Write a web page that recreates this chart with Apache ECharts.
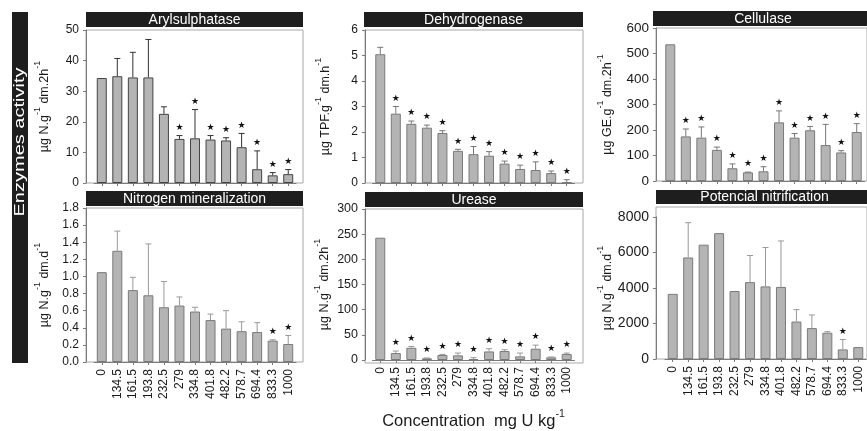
<!DOCTYPE html>
<html>
<head>
<meta charset="utf-8">
<script src="https://cdn.jsdelivr.net/npm/echarts@6/dist/echarts.min.js"></script>
<style>
html,body{margin:0;padding:0;background:#fff;}
#c{width:867px;height:431px;}
</style>
</head>
<body>
<div id="c"></div>
<script>
// ---------- DATA ----------
const categories = ['0','134.5','161.5','193.8','232.5','279','334.8','401.8','482.2','578.7','694.4','833.3','1000'];

const arylTitle = 'Arylsulphatase';
const arylValues = [34.3, 34.9, 34.5, 34.5, 22.6, 14.4, 14.6, 14.2, 13.9, 11.7, 4.5, 2.5, 2.9];
const arylErrors = [0, 5.8, 8.2, 12.4, 2.3, 1.1, 9.4, 1.3, 0.9, 4.5, 6.0, 0.9, 1.5];
const arylSignif = [0,0,0,0,0,1,1,1,1,1,1,1,1];

const dehyTitle = 'Dehydrogenase';
const dehyValues = [5.05, 2.72, 2.32, 2.17, 1.96, 1.26, 1.13, 1.07, 0.76, 0.55, 0.51, 0.39, 0.03];
const dehyErrors = [0.27, 0.28, 0.11, 0.10, 0.09, 0.06, 0.30, 0.16, 0.10, 0.15, 0.32, 0.08, 0.10];
const dehySignif = [0,1,1,1,1,1,1,1,1,1,1,1,1];

const cellTitle = 'Cellulase';
const cellValues = [536, 175, 170, 122, 50, 34, 38, 230, 170, 199, 141, 112, 192];
const cellErrors = [0, 29, 42, 11, 17, 1, 18, 45, 16, 15, 81, 7, 33];
const cellSignif = [0,1,1,1,1,1,1,1,1,1,1,1,1];

const nminTitle = 'Nitrogen mineralization';
const nminValues = [1.05, 1.30, 0.84, 0.78, 0.64, 0.66, 0.59, 0.49, 0.39, 0.36, 0.35, 0.25, 0.21];
const nminErrors = [0, 0.23, 0.15, 0.60, 0.30, 0.10, 0.05, 0.07, 0.21, 0.11, 0.11, 0.01, 0.10];
const nminSignif = [0,0,0,0,0,0,0,0,0,0,0,1,1];

const ureaTitle = 'Urease';
const ureaValues = [243, 13.8, 24.3, 3.3, 9.9, 9.2, 2.0, 17.0, 17.8, 7.2, 22.4, 5.3, 11.8];
const ureaErrors = [0, 4.0, 2.7, 0.7, 1.3, 4.6, 2.6, 5.4, 2.6, 6.6, 7.2, 0.7, 2.0];
const ureaSignif = [0,1,1,1,1,1,1,1,1,1,1,1,1];

const nitrTitle = 'Potencial nitrification';
const nitrValues = [3670, 5720, 6440, 7090, 3830, 4330, 4090, 4060, 2110, 1740, 1480, 540, 670];
const nitrErrors = [0, 1960, 0, 0, 0, 1500, 2190, 2590, 670, 740, 60, 560, 0];
const nitrSignif = [0,0,0,0,0,0,0,0,0,0,0,1,0];

const arylTicks = [0, 50, 10];
const dehyTicks = [0, 6, 1];
const cellTicks = [0, 600, 100];
const nminTicks = [0, 1.8, 0.2];
const ureaTicks = [0, 300, 50];
const nitrTicks = [0, 8000, 2000];

const arylUnit = ['µg N.g', '-1', ' dm.2h', '-1'];
const dehyUnit = ['µg TPF.g', '-1', ' dm.h', '-1'];
const cellUnit = ['µg GE.g', '-1', ' dm.2h', '-1'];
const nminUnit = ['µg N.g', '-1', ' dm.d', '-1'];
const ureaUnit = ['µg N.g', '-1', ' dm.2h', '-1'];
const nitrUnit = ['µg N.g', '-1', ' dm.d', '-1'];

const sideTitle = 'Enzymes activity';
const xTitle = ['Concentration  mg U kg', '-1'];

// ---------- LAYOUT (pixels) ----------
const FONT = '"Liberation Sans", Arial, sans-serif';
const panels = [
  {title: arylTitle, vals: arylValues, errs: arylErrors, sig: arylSignif, ticks: arylTicks, unit: arylUnit,
   frame:[86,30,217,153], data:[94,30,202,153], bar:[86,12,217,15], gap:35, lab:12, bottom:false,
   barBorder:'#444', errColor:'#333', dec:0},
  {title: dehyTitle, vals: dehyValues, errs: dehyErrors, sig: dehySignif, ticks: dehyTicks, unit: dehyUnit,
   frame:[365,30,218,153], data:[372.5,30,202,153], bar:[364,12,219,15], gap:33, lab:12, bottom:false,
   barBorder:'#7a7a7a', errColor:'#777', dec:0},
  {title: cellTitle, vals: cellValues, errs: cellErrors, sig: cellSignif, ticks: cellTicks, unit: cellUnit,
   frame:[656,28,216,153], data:[662.5,28,202,153], bar:[653,11,220,15], gap:42, lab:13.5, bottom:false,
   barBorder:'#7a7a7a', errColor:'#777', dec:0},
  {title: nminTitle, vals: nminValues, errs: nminErrors, sig: nminSignif, ticks: nminTicks, unit: nminUnit,
   frame:[86,208,217,154], data:[94,208,202,154], bar:[86,191,217,15], gap:35, lab:12, bottom:true,
   barBorder:'#7a7a7a', errColor:'#999', dec:1},
  {title: ureaTitle, vals: ureaValues, errs: ureaErrors, sig: ureaSignif, ticks: ureaTicks, unit: ureaUnit,
   frame:[365,209,218,154], data:[372.5,209,202,154], bar:[365,192,218,15], gap:34, lab:12.5, bottom:true,
   barBorder:'#7a7a7a', errColor:'#999', dec:0, xname:true},
  {title: nitrTitle, vals: nitrValues, errs: nitrErrors, sig: nitrSignif, ticks: nitrTicks, unit: nitrUnit,
   frame:[656,207,216,152], data:[665,217,201,142], bar:[656,190,217,14], gap:42, lab:14, bottom:true,
   barBorder:'#7a7a7a', errColor:'#999', dec:0}
];

const grid = [], xAxis = [], yAxis = [], series = [], graphic = [];
const AXIS = '#7a7a7a';

function errRender(color) {
  return function (params, api) {
    const x = api.value(0);
    const p0 = api.coord([x, api.value(1)]);
    const p1 = api.coord([x, api.value(2)]);
    const cw = 3;
    return {type:'group', children:[
      {type:'line', shape:{x1:p0[0], y1:p0[1], x2:p1[0], y2:p1[1]}, style:{stroke:color, lineWidth:1}},
      {type:'line', shape:{x1:p1[0]-cw, y1:p1[1], x2:p1[0]+cw, y2:p1[1]}, style:{stroke:color, lineWidth:1}}
    ]};
  };
}
function starRender(params, api) {
  const p = api.coord([api.value(0), api.value(1)]);
  return {type:'text', x:p[0], y:p[1]-8,
    style:{text:'★', fontSize:9, fill:'#111', align:'center', verticalAlign:'middle', fontFamily:'DejaVu Sans'}};
}

panels.forEach((p, k) => {
  grid.push({left:p.frame[0], top:p.frame[1], width:p.frame[2], height:p.frame[3],
    show:true, borderColor:'#a8a8a8', borderWidth:1, backgroundColor:'transparent'});
  grid.push({left:p.data[0], top:p.data[1], width:p.data[2], height:p.data[3], show:false});
  const gi = grid.length - 1;
  xAxis.push({type:'category', gridIndex:gi, data:categories,
    axisLine:{show:true, lineStyle:{color:AXIS, width:1}},
    axisTick:{show:true, alignWithLabel:true, length:3, lineStyle:{color:AXIS}},
    axisLabel:{show:p.bottom, rotate:90, fontSize:12, margin:7, color:'#1a1a1a', fontFamily:FONT, interval:0},
    name: p.xname ? '{a|' + xTitle[0] + '}{s|' + xTitle[1] + '}' : '',
    nameLocation:'middle', nameGap:49,
    nameTextStyle:{fontFamily:FONT, color:'#1a1a1a', rich:{
      a:{fontSize:16.5, fontFamily:FONT, color:'#1a1a1a', padding:[4,0,0,0]},
      s:{fontSize:10.5, fontFamily:FONT, color:'#1a1a1a', verticalAlign:'top'}}}
  });
  const u = p.unit;
  yAxis.push({type:'value', gridIndex:gi, min:p.ticks[0], max:p.ticks[1], interval:p.ticks[2],
    offset: p.data[0] - p.frame[0],
    axisLine:{show:true, lineStyle:{color:AXIS, width:1}},
    axisTick:{show:true, length:3, lineStyle:{color:AXIS}},
    splitLine:{show:false},
    axisLabel:{fontSize:p.lab, margin:7, color:'#1a1a1a', fontFamily:FONT,
      formatter: v => v.toFixed(p.dec)},
    name:'{m|' + u[0] + '}{s|' + u[1] + '}{m|' + u[2] + '}{s|' + u[3] + '}',
    nameLocation:'middle', nameGap:p.gap,
    nameTextStyle:{fontFamily:FONT, color:'#1a1a1a', rich:{
      m:{fontSize:12.5, fontFamily:FONT, color:'#1a1a1a', padding:[5,0,0,0]},
      s:{fontSize:9, fontFamily:FONT, color:'#1a1a1a', verticalAlign:'top'}}}
  });
  const ai = xAxis.length - 1;
  series.push({type:'bar', xAxisIndex:ai, yAxisIndex:ai, data:p.vals, barWidth:10,
    itemStyle:{color:'#b4b4b4', borderColor:p.barBorder, borderWidth:1}, silent:true, animation:false});
  const errData = [];
  p.vals.forEach((v, i) => { if (p.errs[i] > 0) errData.push([i, v, v + p.errs[i]]); });
  series.push({type:'custom', xAxisIndex:ai, yAxisIndex:ai, data:errData, renderItem:errRender(p.errColor),
    encode:{x:0, y:[1,2]}, silent:true, animation:false, z:3});
  const starData = [];
  p.vals.forEach((v, i) => { if (p.sig[i]) starData.push([i, v + p.errs[i]]); });
  series.push({type:'custom', xAxisIndex:ai, yAxisIndex:ai, data:starData, renderItem:starRender,
    encode:{x:0, y:1}, silent:true, animation:false, z:4});
  graphic.push({type:'rect', left:p.bar[0], top:p.bar[1], shape:{width:p.bar[2], height:p.bar[3]},
    style:{fill:'#1e1e1e'}, silent:true});
  graphic.push({type:'text', x:p.bar[0] + p.bar[2]/2, y:p.bar[1] + p.bar[3]/2 + 0.5,
    style:{text:p.title, fill:'#fff', fontSize:14, fontFamily:FONT, align:'center', verticalAlign:'middle'}, silent:true});
});

graphic.push({type:'rect', left:12, top:12, shape:{width:16, height:351}, style:{fill:'#1e1e1e'}, silent:true});
graphic.push({type:'group', x:20.5, y:142, rotation:Math.PI/2, children:[
  {type:'text', x:0, y:0, scaleX:1.43, scaleY:1,
   style:{text:sideTitle, fill:'#fff', fontSize:14, fontFamily:FONT, align:'center', verticalAlign:'middle'}, silent:true}
]});

const chart = echarts.init(document.getElementById('c'), null, {renderer:'canvas'});
chart.setOption({backgroundColor:'#fff', animation:false, grid, xAxis, yAxis, series, graphic});
</script>
</body>
</html>
